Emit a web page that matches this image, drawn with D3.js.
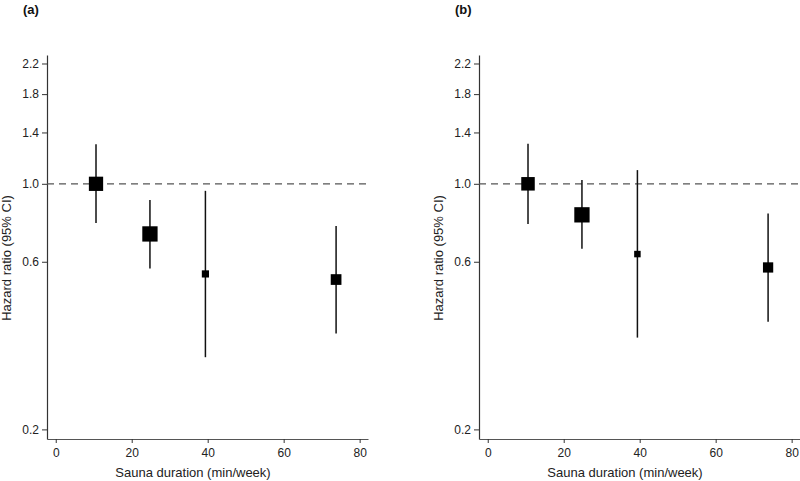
<!DOCTYPE html>
<html>
<head>
<meta charset="utf-8">
<script src="https://cdn.jsdelivr.net/npm/d3@7"></script>
<style>
  body { margin: 0; background: #fff; }
  svg { display: block; }
  text { font-family: Arial, "Liberation Sans", sans-serif; }
</style>
</head>
<body>
<svg id="chart" width="800" height="481"></svg>
<script>
// ---- data ----
const panels = ["(a)", "(b)"];
const duration = [10.6, 24.8, 39.4, 73.8];           // min/week
const hrA  = [1.00, 0.72, 0.554, 0.534];
const loA  = [0.773, 0.574, 0.321, 0.375];
const hiA  = [1.297, 0.899, 0.955, 0.759];
const wA   = [0.87, 1.00, 0.22, 0.49];                 // relative weight (marker area)
const hrB  = [1.00, 0.816, 0.631, 0.578];
const loB  = [0.768, 0.653, 0.365, 0.405];
const hiB  = [1.30, 1.025, 1.094, 0.823];
const wB   = [0.78, 1.00, 0.18, 0.45];
const yTicks = [0.2, 0.6, 1.0, 1.4, 1.8, 2.2];
const xTicks = [0, 20, 40, 60, 80];
const xLabel = "Sauna duration (min/week)";
const yLabel = "Hazard ratio (95% CI)";

const series = [
  { label: panels[0], hr: hrA, lo: loA, hi: hiA, w: wA },
  { label: panels[1], hr: hrB, lo: loB, hi: hiB, w: wB }
];

const svg = d3.select("#chart");
const plotTop = 55, plotBottom = 439;
const panelLeft = [47, 479];
const panelWidth = 321;

const y = d3.scaleLog().domain([0.1878, 2.326]).range([plotBottom, plotTop]);
const size = d3.scaleSqrt().domain([0, 1]).range([0, 15.3]);

series.forEach((s, i) => {
  const x0 = panelLeft[i];
  const x = d3.scaleLinear().domain([-2.3, 82.2]).range([x0, x0 + panelWidth]);
  const g = svg.append("g");

  // panel label
  g.append("text")
    .attr("x", x0 - 24).attr("y", 14)
    .attr("font-size", 13).attr("font-weight", "bold").attr("fill", "#111")
    .text(s.label);

  // y axis
  const yAxis = d3.axisLeft(y).tickValues(yTicks).tickFormat(d3.format(".1f"))
    .tickSizeOuter(0).tickSizeInner(5).tickPadding(3);
  const ga = g.append("g").attr("transform", `translate(${x0},0)`).call(yAxis);
  ga.select(".domain").attr("stroke", "#333").attr("stroke-width", 1.2);
  ga.selectAll(".tick line").attr("stroke", "#333");
  ga.selectAll(".tick text").attr("font-size", 12).attr("fill", "#222")
    .attr("font-family", "Arial, 'Liberation Sans', sans-serif");

  // x axis
  const xAxis = d3.axisBottom(x).tickValues(xTicks).tickFormat(d3.format("d"))
    .tickSizeOuter(0).tickSizeInner(4).tickPadding(5);
  const gx = g.append("g").attr("transform", `translate(0,${plotBottom})`).call(xAxis);
  gx.select(".domain").attr("stroke", "#555").attr("stroke-width", 1.2);
  gx.selectAll(".tick line").attr("stroke", "#333");
  gx.selectAll(".tick text").attr("font-size", 12).attr("fill", "#222")
    .attr("font-family", "Arial, 'Liberation Sans', sans-serif");

  // axis titles
  g.append("text")
    .attr("x", x0 + 146).attr("y", 477)
    .attr("text-anchor", "middle").attr("font-size", 13).attr("fill", "#222")
    .text(xLabel);
  g.append("text")
    .attr("transform", `translate(${x0 - 36},258) rotate(-90)`)
    .attr("text-anchor", "middle").attr("font-size", 13).attr("fill", "#222")
    .text(yLabel);

  // reference line at HR = 1
  g.append("line")
    .attr("x1", x0).attr("x2", x0 + panelWidth)
    .attr("y1", y(1)).attr("y2", y(1))
    .attr("stroke", "#555").attr("stroke-width", 1.3)
    .attr("stroke-dasharray", "7,5");

  // CIs
  g.selectAll("line.ci").data(duration).join("line").attr("class", "ci")
    .attr("x1", d => x(d)).attr("x2", d => x(d))
    .attr("y1", (d, j) => y(s.lo[j])).attr("y2", (d, j) => y(s.hi[j]))
    .attr("stroke", "#111").attr("stroke-width", 1.5);

  // markers
  g.selectAll("rect.pt").data(duration).join("rect").attr("class", "pt")
    .attr("x", (d, j) => x(d) - size(s.w[j]) / 2)
    .attr("y", (d, j) => y(s.hr[j]) - size(s.w[j]) / 2)
    .attr("width", (d, j) => size(s.w[j]))
    .attr("height", (d, j) => size(s.w[j]))
    .attr("fill", "#000");
});
</script>
</body>
</html>
